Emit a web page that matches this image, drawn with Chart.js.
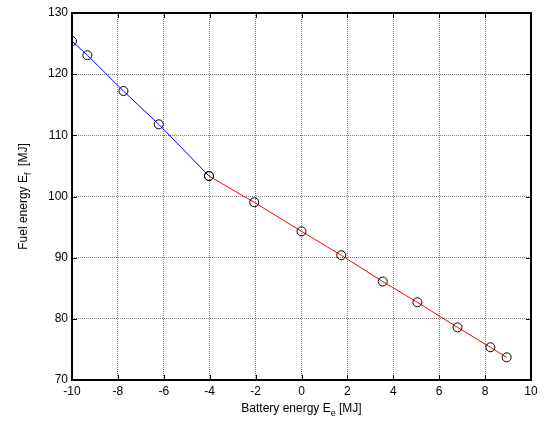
<!DOCTYPE html>
<html>
<head>
<meta charset="utf-8">
<script src="https://cdn.jsdelivr.net/npm/chart.js@4/dist/chart.umd.min.js"></script>
<style>
  html, body { margin: 0; padding: 0; background: #fff; }
  #wrap { width: 544px; height: 424px; }
</style>
</head>
<body>
<div id="wrap"><canvas id="chart" width="544" height="424"></canvas></div>
<script>
// Discharging branch (battery energy below -4 MJ)
const blueX = [-10, -9.33, -7.76, -6.22, -4.03];
const blueY = [125.4, 123.1, 117.25, 111.8, 103.35];

// Charging branch
const redX = [-4.03, -2.06, 0, 1.73, 3.54, 5.05, 6.8, 8.23, 8.94];
const redY = [103.35, 99.05, 94.3, 90.4, 86.1, 82.7, 78.6, 75.35, 73.7];

const xTicks = [-10, -8, -6, -4, -2, 0, 2, 4, 6, 8, 10];
const yTicks = [70, 80, 90, 100, 110, 120, 130];

const FONT = "Liberation Sans, Arial, sans-serif";

function toPoints(xs, ys) {
    return xs.map((x, i) => ({ x: x, y: ys[i] }));
}

// Inward ticks on all four sides, the axes box and the subscripted axis titles
const matlabAxes = {
    id: 'matlabAxes',
    afterDraw(chart) {
        const { ctx, chartArea: a, scales } = chart;
        const len = 5;
        ctx.save();
        ctx.strokeStyle = '#000';
        ctx.lineWidth = 1;
        ctx.beginPath();
        xTicks.forEach(v => {
            const px = Math.round(scales.x.getPixelForValue(v)) + 0.5;
            ctx.moveTo(px, a.bottom); ctx.lineTo(px, a.bottom - len);
            ctx.moveTo(px, a.top); ctx.lineTo(px, a.top + len);
        });
        yTicks.forEach(v => {
            const py = Math.round(scales.y.getPixelForValue(v)) + 0.5;
            ctx.moveTo(a.left, py); ctx.lineTo(a.left + len, py);
            ctx.moveTo(a.right, py); ctx.lineTo(a.right - len, py);
        });
        ctx.stroke();
        ctx.lineWidth = 2;
        ctx.strokeRect(Math.round(a.left), Math.round(a.top),
            Math.round(a.right - a.left), Math.round(a.bottom - a.top));

        // axis titles with subscripts
        ctx.fillStyle = '#000';
        ctx.textBaseline = 'alphabetic';
        const drawTitle = (parts, cx, cy) => {
            let w = 0;
            parts.forEach(p => {
                ctx.font = (p.sub ? '9px ' : '12px ') + FONT;
                w += ctx.measureText(p.t).width;
            });
            let x = cx - w / 2;
            parts.forEach(p => {
                ctx.font = (p.sub ? '9px ' : '12px ') + FONT;
                ctx.textAlign = 'left';
                ctx.fillText(p.t, x, cy + (p.sub ? 4 : 0));
                x += ctx.measureText(p.t).width;
            });
        };
        drawTitle([{ t: 'Battery energy E' }, { t: 'e', sub: true }, { t: ' [MJ]' }],
            (a.left + a.right) / 2, 412);
        ctx.save();
        ctx.translate(27, (a.top + a.bottom) / 2);
        ctx.rotate(-Math.PI / 2);
        drawTitle([{ t: 'Fuel energy E' }, { t: 'f', sub: true }, { t: '  [MJ]' }], 0, 0);
        ctx.restore();
        ctx.restore();
    }
};

const gridStyle = {
    color: 'rgba(0,0,0,0.5)',
    lineWidth: 1,
    drawTicks: false
};

new Chart(document.getElementById('chart'), {
    type: 'scatter',
    data: {
        datasets: [
            {
                data: toPoints(blueX, blueY),
                showLine: true,
                borderColor: '#0000ff',
                borderWidth: 1,
                pointBorderColor: '#000',
                pointBackgroundColor: 'rgba(0,0,0,0)',
                pointBorderWidth: 1,
                pointRadius: 4.5,
                tension: 0
            },
            {
                data: toPoints(redX, redY),
                showLine: true,
                borderColor: '#ff0000',
                borderWidth: 1,
                pointBorderColor: '#000',
                pointBackgroundColor: 'rgba(0,0,0,0)',
                pointBorderWidth: 1,
                pointRadius: 4.5,
                tension: 0
            }
        ]
    },
    options: {
        responsive: false,
        animation: false,
        layout: { padding: { left: 0, top: 13, right: 13, bottom: 0 } },
        plugins: {
            legend: { display: false },
            tooltip: { enabled: false }
        },
        scales: {
            x: {
                type: 'linear',
                min: -10,
                max: 10,
                afterBuildTicks: s => { s.ticks = xTicks.map(v => ({ value: v })); },
                afterFit: s => { s.height = 44; },
                border: { display: false, dash: [1, 1] },
                grid: gridStyle,
                ticks: { color: '#000', padding: 4, font: { family: FONT, size: 12 } }
            },
            y: {
                type: 'linear',
                min: 70,
                max: 130,
                afterBuildTicks: s => { s.ticks = yTicks.map(v => ({ value: v })); },
                afterFit: s => { s.width = 72; },
                border: { display: false, dash: [1, 1] },
                grid: gridStyle,
                ticks: { color: '#000', padding: 4, font: { family: FONT, size: 12 } }
            }
        }
    },
    plugins: [matlabAxes]
});
</script>
</body>
</html>
